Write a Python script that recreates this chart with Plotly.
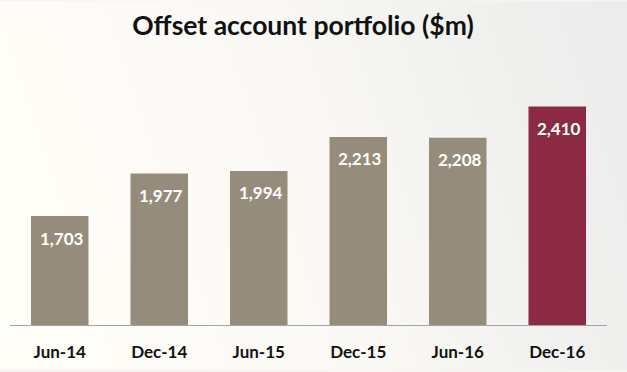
import plotly.graph_objects as go
import base64

categories = ["Jun-14", "Dec-14", "Jun-15", "Dec-15", "Jun-16", "Dec-16"]
values = [1703, 1977, 1994, 2213, 2208, 2410]
bar_colors = ["#968C7C", "#968C7C", "#968C7C", "#968C7C", "#968C7C", "#8C2A43"]
title_text = "Offset account portfolio ($m)"

W, H = 627, 372
ML, MR, MT, MB = 10, 20, 77, 45
PW, PH = W - ML - MR, H - MT - MB

svg = (
    '<svg xmlns="http://www.w3.org/2000/svg" width="627" height="372" preserveAspectRatio="none">'
    '<defs><linearGradient id="g" x1="0" y1="0.2" x2="1" y2="0">'
    '<stop offset="0" stop-color="#FEFDF8"/>'
    '<stop offset="0.45" stop-color="#F9F8F4"/>'
    '<stop offset="0.8" stop-color="#EFEFEE"/>'
    '<stop offset="1" stop-color="#ECECEC"/>'
    '</linearGradient></defs>'
    '<rect width="627" height="372" fill="url(#g)"/></svg>'
)
bg_uri = "data:image/svg+xml;base64," + base64.b64encode(svg.encode()).decode()

fig = go.Figure()
fig.add_trace(go.Bar(
    x=categories, y=values,
    marker=dict(color=bar_colors, line=dict(width=0)),
    hoverinfo="skip",
))

annotations = [
    dict(x=c, y=v, xref="x", yref="y", text=f"{v:,}", showarrow=False,
         yshift=-22, xshift=2, yanchor="middle",
         font=dict(family="Lato", size=17, color="white", weight="bold"))
    for c, v in zip(categories, values)
]

fig.update_layout(
    width=W, height=H,
    margin=dict(l=ML, r=MR, t=MT, b=MB),
    paper_bgcolor="#F6F5F2",
    plot_bgcolor="rgba(0,0,0,0)",
    bargap=0.422,
    showlegend=False,
    title=dict(text=f"<b>{title_text}</b>", xref="container", yref="container",
               x=303 / W, y=1 - 26 / H, xanchor="center", yanchor="middle",
               font=dict(family="Lato", size=26.5, color="#111111")),
    annotations=annotations,
    images=[dict(source=bg_uri, xref="paper", yref="paper",
                 x=-ML / PW, y=1 + MT / PH, sizex=W / PW, sizey=H / PH,
                 xanchor="left", yanchor="top", sizing="stretch", layer="below")],
    xaxis=dict(showline=True, linecolor="#A3A3A3", linewidth=1,
               ticks="", ticklabelstandoff=12,
               tickfont=dict(family="Lato", size=17, color="#111111", weight="bold"),
               showgrid=False, zeroline=False, fixedrange=True),
    yaxis=dict(range=[1000, 2600], visible=False, showgrid=False, fixedrange=True),
)

fig.write_html(
    "out.html",
    config={"displayModeBar": False},
    post_script="document.body.style.margin='0';document.body.style.overflow='hidden';",
)
